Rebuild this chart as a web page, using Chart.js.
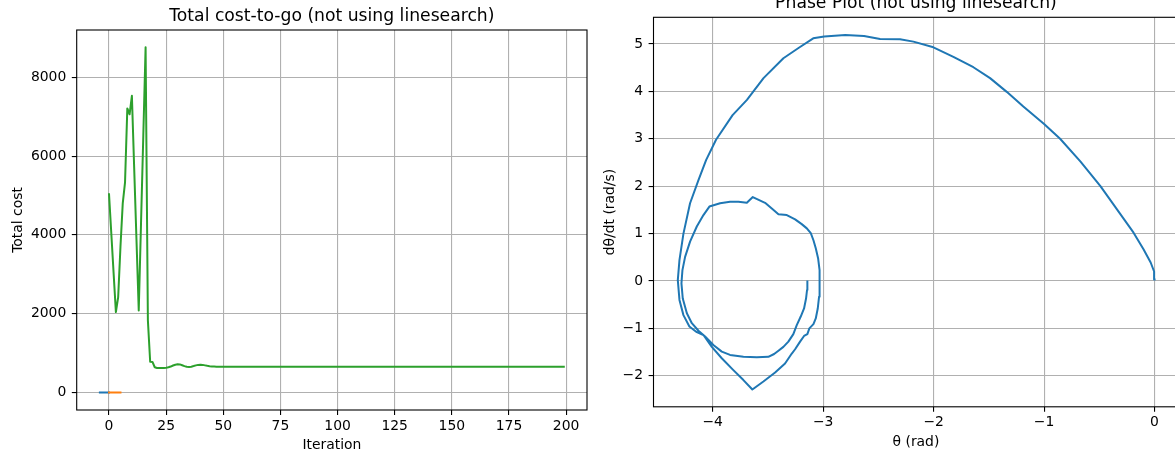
<!DOCTYPE html>
<html><head><meta charset="utf-8">
<script src="https://cdn.jsdelivr.net/npm/chart.js@4/dist/chart.umd.min.js"></script>
<style>
html,body{margin:0;padding:0;overflow:hidden;background:#fff;width:1175px;height:454px;position:relative;}
#left{position:absolute;left:0;top:0;}
#right{position:absolute;left:600px;top:-13px;}
</style></head><body>
<canvas id="left" width="600" height="454"></canvas>
<canvas id="right" width="600" height="467"></canvas>
<script>
// ---- Left chart data: total cost per iteration ----
const blueIter = [-4, -3, -2, -1, 0];
const blueCost = [0, 0, 0, 0, 0];
const orangeIter = [0, 1, 2, 3, 4, 5];
const orangeCost = [0, 0, 0, 0, 0, 0];
const greenCost = [
  5030, 4030, 3030, 2040, 2420, 3700, 4800, 5330, 7210, 7060,
  7530, 5700, 3890, 2080, 4300, 6530, 8760, 1830, 780, 775,
  640, 622, 618, 620, 624, 630, 640, 658, 685, 705,
  716, 712, 692, 668, 652, 648, 655, 670, 688, 700,
  706, 700, 688, 676, 667, 662, 658, 655, 653, 652,
  652, 653, 653, 654, 654, 654, 655, 655, 655, 655,
  655, 655, 655, 655, 655, 655, 655, 655, 655, 655,
  655, 655, 655, 655, 655, 655, 655, 655, 655, 655,
  655, 655, 655, 655, 655, 655, 655, 655, 655, 655,
  655, 655, 655, 655, 655, 655, 655, 655, 655, 655,
  655, 655, 655, 655, 655, 655, 655, 655, 655, 655,
  655, 655, 655, 655, 655, 655, 655, 655, 655, 655,
  655, 655, 655, 655, 655, 655, 655, 655, 655, 655,
  655, 655, 655, 655, 655, 655, 655, 655, 655, 655,
  655, 655, 655, 655, 655, 655, 655, 655, 655, 655,
  655, 655, 655, 655, 655, 655, 655, 655, 655, 655,
  655, 655, 655, 655, 655, 655, 655, 655, 655, 655,
  655, 655, 655, 655, 655, 655, 655, 655, 655, 655,
  655, 655, 655, 655, 655, 655, 655, 655, 655, 655,
  655, 655, 655, 655, 655, 655, 655, 655, 655, 655
];
const greenIter = greenCost.map((_, i) => i);
const costXTicks = [0, 25, 50, 75, 100, 125, 150, 175, 200];
const costXLabels = ['0', '25', '50', '75', '100', '125', '150', '175', '200'];
const costYTicks = [0, 2000, 4000, 6000, 8000];
const costYLabels = ['0', '2000', '4000', '6000', '8000'];

// ---- Right chart data: phase trajectory ----
const theta = [
  0.000, -0.004, -0.035, -0.10, -0.19, -0.34, -0.49, -0.67, -0.855, -1.00,
  -1.188, -1.338, -1.489, -1.640, -1.821, -2.002, -2.183, -2.304, -2.485, -2.63,
  -2.80, -2.99, -3.09, -3.22, -3.36, -3.54, -3.69, -3.82, -3.97, -4.06,
  -4.129, -4.205, -4.265, -4.301, -4.316, -4.301, -4.265, -4.211, -4.144, -4.084,
  -4.008, -3.918, -3.813, -3.722, -3.641, -3.541, -3.435, -3.345, -3.284, -3.254,
  -3.209, -3.173, -3.143, -3.125, -3.088, -3.067, -3.049, -3.037, -3.031, -3.034,
  -3.046, -3.067, -3.088, -3.112, -3.148, -3.194, -3.254, -3.329, -3.405, -3.465,
  -3.526, -3.637, -3.691, -3.767, -3.843, -3.933, -4.030, -4.084, -4.144, -4.205,
  -4.250, -4.274, -4.283, -4.271, -4.234, -4.189, -4.129, -4.069, -3.994, -3.918,
  -3.843, -3.722, -3.601, -3.496, -3.444, -3.405, -3.360, -3.315, -3.270, -3.239,
  -3.203, -3.173, -3.155, -3.146, -3.143
];
const thetaDot = [
  0.03, 0.20, 0.39, 0.67, 1.02, 1.51, 2.00, 2.52, 3.00, 3.31,
  3.68, 3.99, 4.28, 4.51, 4.73, 4.93, 5.05, 5.10, 5.105, 5.17,
  5.19, 5.16, 5.12, 4.92, 4.70, 4.28, 3.82, 3.50, 2.98, 2.55,
  2.13, 1.64, 1.00, 0.44, 0.02, -0.40, -0.72, -0.96, -1.08, -1.14,
  -1.39, -1.63, -1.88, -2.09, -2.29, -2.12, -1.93, -1.74, -1.53, -1.44,
  -1.28, -1.16, -1.12, -1.00, -0.91, -0.79, -0.58, -0.33, -0.05, 0.23,
  0.48, 0.69, 0.86, 1.01, 1.11, 1.20, 1.30, 1.39, 1.41, 1.53,
  1.65, 1.77, 1.65, 1.67, 1.67, 1.64, 1.57, 1.39, 1.15, 0.83,
  0.51, 0.23, -0.05, -0.37, -0.68, -0.89, -1.05, -1.17, -1.35, -1.49,
  -1.56, -1.60, -1.61, -1.60, -1.54, -1.47, -1.39, -1.28, -1.12, -0.93,
  -0.75, -0.58, -0.37, -0.19, -0.01
];
const phaseXTicks = [-4, -3, -2, -1, 0];
const phaseXLabels = ['\u22124', '\u22123', '\u22122', '\u22121', '0'];
const phaseYTicks = [-2, -1, 0, 1, 2, 3, 4, 5];
const phaseYLabels = ['\u22122', '\u22121', '0', '1', '2', '3', '4', '5'];

// ---- Styling helpers ----
Chart.defaults.font.family = "'DejaVu Sans', sans-serif";
Chart.defaults.color = '#000';
const TICK_FONT = 13.9, TITLE_FONT = 17.2;

const spines = {
  id: 'spines',
  afterDatasetsDraw(chart) {
    const a = chart.chartArea, c = chart.ctx;
    c.save();
    c.strokeStyle = '#000';
    c.lineWidth = 1.1;
    c.strokeRect(a.left, a.top, a.right - a.left, a.bottom - a.top);
    c.restore();
  }
};

function pts(xs, ys) { return xs.map((x, i) => ({x: x, y: ys[i]})); }

function axis(min, max, ticks, labels, titleText, isX, fitSize, tickPad, titlePad) {
  return {
    type: 'linear', min: min, max: max,
    afterBuildTicks: s => { s.ticks = ticks.map(v => ({value: v})); },
    afterFit: s => { if (isX) s.height = fitSize; else s.width = fitSize; },
    ticks: {
      callback: (v, i) => labels[i], color: '#000', autoSkip: false, maxRotation: 0,
      font: {size: TICK_FONT}, padding: tickPad
    },
    grid: {color: '#b0b0b0', lineWidth: 1.1, tickColor: '#000', tickWidth: 1.1, tickLength: 4.9, drawTicks: true},
    border: {display: false},
    title: {display: true, text: titleText, color: '#000', font: {size: TICK_FONT}, padding: titlePad}
  };
}

function line(data, color, order) {
  return {data: data, borderColor: color, backgroundColor: color, borderWidth: 2, showLine: true,
          pointRadius: 0, tension: 0, fill: false, order: order,
          borderJoinStyle: 'round', borderCapStyle: 'square'};
}

new Chart(document.getElementById('left'), {
  type: 'scatter',
  data: {datasets: [
    line(pts(blueIter, blueCost), '#1f77b4', 2),
    line(pts(orangeIter, orangeCost), '#ff7f0e', 1),
    line(pts(greenIter, greenCost), '#2ca02c', 0)
  ]},
  options: {
    responsive: false, animation: false, events: [], devicePixelRatio: 1,
    layout: {padding: {left: 0, right: 13, top: 0, bottom: 0}},
    plugins: {
      legend: {display: false}, tooltip: {enabled: false},
      title: {display: true, fullSize: false, text: 'Total cost-to-go (not using linesearch)', color: '#000',
              font: {size: TITLE_FONT, weight: 'normal'}, padding: {top: 6.2, bottom: 3.16}}
    },
    scales: {
      x: axis(-14.15, 209.15, costXTicks, costXLabels, 'Iteration', true, 44, 2.7, {top: 0, bottom: 0.5}),
      y: axis(-445, 9200, costYTicks, costYLabels, 'Total cost', false, 76.7, 5.5, {top: 9.7, bottom: 0})
    }
  },
  plugins: [spines]
});

new Chart(document.getElementById('right'), {
  type: 'scatter',
  data: {datasets: [line(pts(theta, thetaDot), '#1f77b4', 0)]},
  options: {
    responsive: false, animation: false, events: [], devicePixelRatio: 1,
    layout: {padding: {left: 0, right: 21.6, top: 0, bottom: 0}},
    plugins: {
      legend: {display: false}, tooltip: {enabled: false},
      title: {display: true, fullSize: false, text: 'Phase Plot (not using linesearch)', color: '#000',
              font: {size: TITLE_FONT, weight: 'normal'}, padding: {top: 6.5, bottom: 3.16}}
    },
    scales: {
      x: axis(-4.536, 0.216, phaseXTicks, phaseXLabels, '\u03b8 (rad)', true, 47.2, 2.7, {top: 0, bottom: 3.7}),
      y: axis(-2.654, 5.563, phaseYTicks, phaseYLabels, 'd\u03b8/dt (rad/s)', false, 53.5, 5.5, {top: 1.7, bottom: 0})
    }
  },
  plugins: [spines]
});
</script>
</body></html>
